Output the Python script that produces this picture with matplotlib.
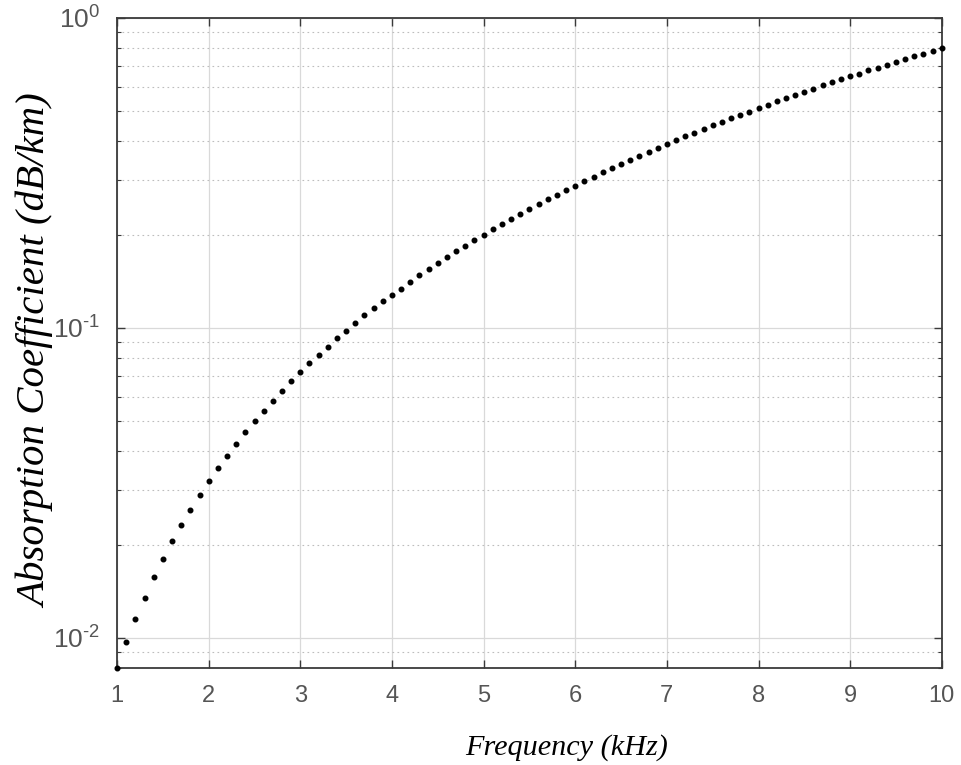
import matplotlib
matplotlib.use("Agg")
import matplotlib.pyplot as plt
import matplotlib.ticker as ticker
import numpy as np

# frequency samples (kHz) and absorption (dB/km)
freq = [
    1.0, 1.1, 1.2, 1.3, 1.4, 1.5, 1.6, 1.7, 1.8, 1.9,
    2.0, 2.1, 2.2, 2.3, 2.4, 2.5, 2.6, 2.7, 2.8, 2.9,
    3.0, 3.1, 3.2, 3.3, 3.4, 3.5, 3.6, 3.7, 3.8, 3.9,
    4.0, 4.1, 4.2, 4.3, 4.4, 4.5, 4.6, 4.7, 4.8, 4.9,
    5.0, 5.1, 5.2, 5.3, 5.4, 5.5, 5.6, 5.7, 5.8, 5.9,
    6.0, 6.1, 6.2, 6.3, 6.4, 6.5, 6.6, 6.7, 6.8, 6.9,
    7.0, 7.1, 7.2, 7.3, 7.4, 7.5, 7.6, 7.7, 7.8, 7.9,
    8.0, 8.1, 8.2, 8.3, 8.4, 8.5, 8.6, 8.7, 8.8, 8.9,
    9.0, 9.1, 9.2, 9.3, 9.4, 9.5, 9.6, 9.7, 9.8, 9.9,
    10.0,
]
absorption = [
    0.0080, 0.0097, 0.0115, 0.0135, 0.0157, 0.0180, 0.0205, 0.0231, 0.0259, 0.0289,
    0.0320, 0.0353, 0.0387, 0.0423, 0.0461, 0.0500, 0.0541, 0.0583, 0.0627, 0.0673,
    0.0720, 0.0769, 0.0819, 0.0871, 0.0925, 0.0980, 0.104, 0.110, 0.116, 0.122,
    0.128, 0.134, 0.141, 0.148, 0.155, 0.162, 0.169, 0.177, 0.184, 0.192,
    0.200, 0.208, 0.216, 0.225, 0.233, 0.242, 0.251, 0.260, 0.269, 0.278,
    0.288, 0.298, 0.308, 0.318, 0.328, 0.338, 0.348, 0.359, 0.370, 0.381,
    0.392, 0.403, 0.415, 0.426, 0.438, 0.450, 0.462, 0.474, 0.487, 0.499,
    0.512, 0.525, 0.538, 0.551, 0.564, 0.578, 0.592, 0.606, 0.620, 0.634,
    0.648, 0.662, 0.677, 0.692, 0.707, 0.722, 0.737, 0.753, 0.768, 0.784,
    0.800,
]

plt.rcParams['font.family'] = ['Liberation Sans', 'DejaVu Sans']
plt.rcParams['mathtext.fontset'] = 'custom'
plt.rcParams['mathtext.rm'] = 'Liberation Sans'
plt.rcParams['mathtext.it'] = 'Liberation Sans:italic'
plt.rcParams['mathtext.default'] = 'regular'


def pow10(v, _):
    n = int(round(np.log10(v)))
    if n < 0:
        return r'$10^{\text{-}%d}$' % (-n)
    return r'$10^{%d}$' % n


fig = plt.figure(figsize=(9.61, 7.65), dpi=100)
ax = fig.add_axes([0.1218, 0.1268, 0.8582, 0.8497])

ax.plot(freq, absorption, linestyle='None', marker='o', markersize=3.3,
        color='black', zorder=3, clip_on=False)

ax.set_yscale('log')
ax.set_xlim(1, 10)
ax.set_ylim(0.008, 1)
ax.xaxis.set_major_locator(ticker.MultipleLocator(1))
ax.yaxis.set_major_locator(ticker.LogLocator(base=10))
ax.yaxis.set_major_formatter(ticker.FuncFormatter(pow10))
ax.yaxis.set_minor_locator(ticker.LogLocator(base=10, subs=range(2, 10)))
ax.yaxis.set_minor_formatter(ticker.NullFormatter())

ax.grid(True, which='major', color='#d9d9d9', linewidth=0.9, linestyle='-')
ax.grid(True, which='minor', axis='y', color='#bdbdbd', linewidth=0.8,
        linestyle=(0, (1.5, 3)))
ax.set_axisbelow(True)

for s in ax.spines.values():
    s.set_color('#3a3a3a')
    s.set_linewidth(1.3)

ax.tick_params(which='both', direction='in', top=True, right=True,
               colors='#3a3a3a', labelcolor='#555555')
ax.tick_params(which='major', length=6, width=1.0, pad=12)
ax.tick_params(which='minor', length=3, width=0.8)
ax.tick_params(axis='x', labelsize=17)
ax.tick_params(axis='y', labelsize=19)

fig.text(567 / 961, 1 - 748 / 765, 'Frequency (kHz)', ha='center', va='center',
         family='Liberation Serif', style='italic', fontsize=21.8)
fig.text(36 / 961, 1 - 351 / 765, 'Absorption Coefficient (dB/km)', ha='center',
         va='center', rotation=90, family='Liberation Serif', style='italic',
         fontsize=29.4)

fig.savefig('out.png', dpi=100)
